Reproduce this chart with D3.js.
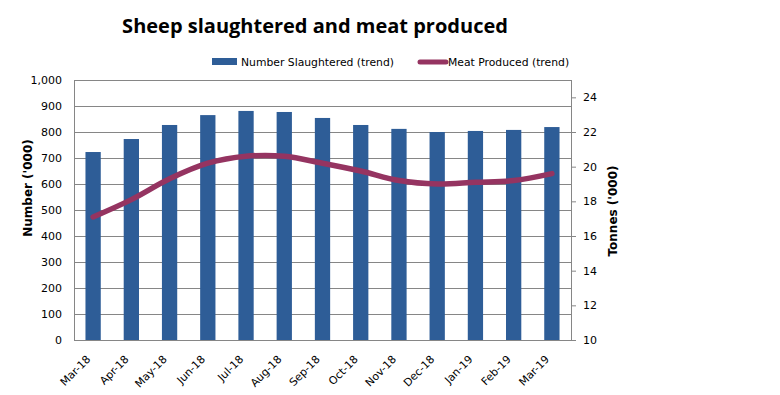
<!DOCTYPE html>
<html>
<head>
<meta charset="utf-8">
<script src="https://cdn.jsdelivr.net/npm/d3@7"></script>
<style>
  body { margin: 0; background: #fff; }
  svg text { font-family: Tahoma, "DejaVu Sans", sans-serif; }
</style>
</head>
<body>
<div id="chart"></div>
<script>
// months on the x axis
var months = ["Mar-18", "Apr-18", "May-18", "Jun-18", "Jul-18", "Aug-18", "Sep-18",
              "Oct-18", "Nov-18", "Dec-18", "Jan-19", "Feb-19", "Mar-19"];
// number slaughtered ('000), left axis
var slaughtered = [723, 773, 827, 865, 881, 877, 854, 827, 812, 800, 804, 808, 819];
// meat produced (tonnes '000), right axis
var meat = [17.1, 18.1, 19.3, 20.2, 20.6, 20.6, 20.2, 19.75, 19.2, 19.0, 19.1, 19.2, 19.6];
var leftTicks = [0, 100, 200, 300, 400, 500, 600, 700, 800, 900, 1000];
var rightTicks = [10, 12, 14, 16, 18, 20, 22, 24];

var margin = {top: 80, right: 209, bottom: 55, left: 74};
var width = 780 - margin.left - margin.right, height = 395 - margin.top - margin.bottom;

var root = d3.select("#chart").append("svg")
  .attr("width", 780).attr("height", 395);

root.append("text")
  .attr("x", 315).attr("y", 33)
  .attr("text-anchor", "middle")
  .style("font-family", "'Open Sans', sans-serif")
  .style("font-weight", "bold")
  .style("font-size", "20px")
  .text("Sheep slaughtered and meat produced");

var svg = root.append("g")
  .attr("transform", "translate(" + margin.left + "," + margin.top + ")");

var x = d3.scaleBand().domain(months).range([0, width]).paddingInner(0.6).paddingOuter(0.3);
var y = d3.scaleLinear().domain([0, 1000]).range([height, 0]);
var y2 = d3.scaleLinear().domain([10, 25]).range([height, 0]);

// gridlines
svg.append("g").selectAll("line").data(leftTicks).join("line")
  .attr("x1", 0).attr("x2", width)
  .attr("y1", d => Math.round(y(d)) + 0.5).attr("y2", d => Math.round(y(d)) + 0.5)
  .attr("stroke", "#868686").attr("stroke-width", 1);

// plot border
svg.append("rect")
  .attr("x", 0.5).attr("y", 0.5).attr("width", width).attr("height", height)
  .attr("fill", "none").attr("stroke", "#868686");

// bars
svg.append("g").selectAll("rect").data(slaughtered).join("rect")
  .attr("x", (d, i) => x(months[i]))
  .attr("y", d => y(d))
  .attr("width", x.bandwidth())
  .attr("height", d => height - y(d))
  .attr("fill", "#2E5D97");

// line
var line = d3.line()
  .x((d, i) => x(months[i]) + x.bandwidth() / 2)
  .y(d => y2(d))
  .curve(d3.curveCatmullRom.alpha(0.5));
svg.append("path")
  .attr("d", line(meat))
  .attr("fill", "none")
  .attr("stroke", "#953461")
  .attr("stroke-width", 5.5)
  .attr("stroke-linecap", "round");

// left axis
var axL = svg.append("g")
  .call(d3.axisLeft(y).tickValues(leftTicks).tickFormat(d3.format(",")).tickSize(0).tickPadding(12));
axL.select(".domain").remove();
axL.selectAll("text").style("font-size", "11px").attr("fill", "#000");

// right axis
var axR = svg.append("g")
  .attr("transform", "translate(" + width + ",0)")
  .call(d3.axisRight(y2).tickValues(rightTicks).tickSize(5).tickPadding(7));
axR.select(".domain").attr("stroke", "#868686").attr("d", "M0.5,0V" + height);
axR.selectAll("line").attr("stroke", "#868686");
axR.selectAll("text").style("font-size", "11px").attr("fill", "#000");

// x axis
var axB = svg.append("g")
  .attr("transform", "translate(0," + height + ")")
  .call(d3.axisBottom(x).tickSize(0));
axB.select(".domain").remove();
axB.selectAll("text")
  .style("font-size", "10.8px").attr("fill", "#000")
  .attr("text-anchor", "end")
  .attr("x", 0).attr("y", 0).attr("dy", 0)
  .attr("transform", "translate(-2,20) rotate(-45)");

// axis titles
root.append("text")
  .attr("transform", "translate(32,188) rotate(-90)")
  .attr("text-anchor", "middle")
  .style("font-weight", "bold").style("font-size", "12px")
  .text("Number ('000)");
root.append("text")
  .attr("transform", "translate(617,211) rotate(-90)")
  .attr("text-anchor", "middle")
  .style("font-weight", "bold").style("font-size", "12px")
  .text("Tonnes ('000)");

// legend
var lg = root.append("g");
lg.append("rect").attr("x", 212).attr("y", 58).attr("width", 25).attr("height", 7).attr("fill", "#2E5D97");
lg.append("text").attr("x", 241).attr("y", 65.5).style("font-size", "10.8px").text("Number Slaughtered (trend)");
lg.append("line").attr("x1", 420).attr("x2", 446).attr("y1", 62).attr("y2", 62)
  .attr("stroke", "#953461").attr("stroke-width", 5).attr("stroke-linecap", "round");
lg.append("text").attr("x", 448).attr("y", 65.5).style("font-size", "10.8px").text("Meat Produced (trend)");
</script>
</body>
</html>
